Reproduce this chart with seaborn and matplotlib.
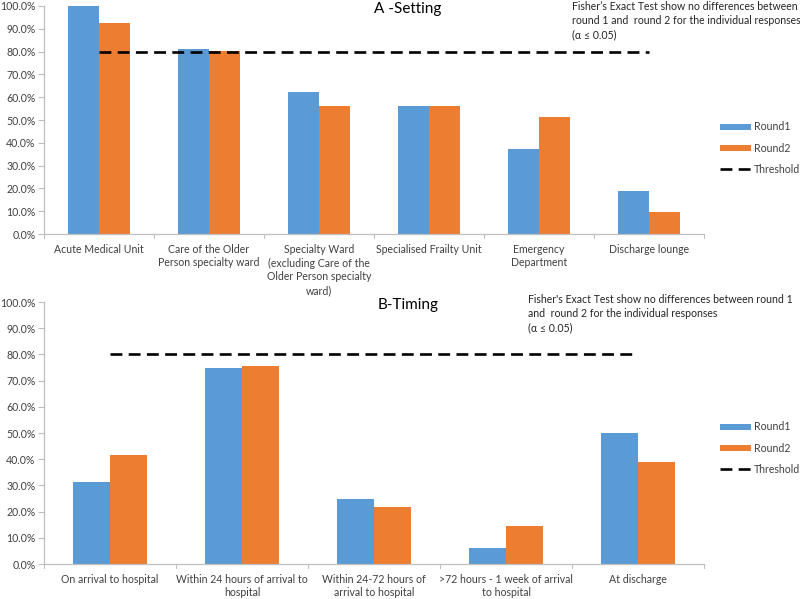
import matplotlib
matplotlib.use("Agg")
import matplotlib.pyplot as plt
import seaborn as sns
import pandas as pd
from matplotlib.patches import Patch
from matplotlib.lines import Line2D

# ---- data ----
setting_cats = ["Acute Medical Unit",
                "Care of the Older\nPerson specialty ward",
                "Specialty Ward\n(excluding Care of the\nOlder Person specialty\nward)",
                "Specialised Frailty Unit",
                "Emergency\nDepartment",
                "Discharge lounge"]
setting_r1 = [100.0, 81.3, 62.5, 56.3, 37.5, 18.8]
setting_r2 = [92.6, 80.4, 56.0, 56.0, 51.3, 9.8]

timing_cats = ["On arrival to hospital",
               "Within 24 hours of arrival to\nhospital",
               "Within 24-72 hours of\narrival to hospital",
               ">72 hours - 1 week of arrival\nto hospital",
               "At discharge"]
timing_r1 = [31.3, 75.0, 25.0, 6.3, 50.0]
timing_r2 = [41.5, 75.6, 21.9, 14.6, 38.9]

threshold = 80.0
series_names = ["Round1", "Round2"]
yticks = [0, 10, 20, 30, 40, 50, 60, 70, 80, 90, 100]

title_a = "A -Setting"
title_b = "B-Timing"
note_a = "Fisher\u2019s Exact Test show no differences between\nround 1 and  round 2 for the individual responses\n(\u03b1 \u2264 0.05)"
note_b = "Fisher's Exact Test show no differences between round 1\nand  round 2 for the individual responses\n(\u03b1 \u2264 0.05)"

blue = "#5B9BD5"
orange = "#ED7D31"
axis_gray = "#BFBFBF"
text_gray = "#404040"
FS = 7.6

sns.set_theme(style="white")
plt.rcParams["font.family"] = ["Lato", "DejaVu Sans"]

fig = plt.figure(figsize=(8.0, 5.99), dpi=100)
ax_a = fig.add_axes([0.055, 0.6093, 0.825, 0.3807])
ax_b = fig.add_axes([0.055, 0.0584, 0.825, 0.4374])

DASH = (0, (4.5, 2.4))


def draw(ax, cats, r1, r2, title, tx, ty, note, nx, ny, leg_y):
    df = pd.DataFrame({
        "cat": cats * 2,
        "val": list(r1) + list(r2),
        "series": [series_names[0]] * len(cats) + [series_names[1]] * len(cats),
    })
    sns.barplot(data=df, x="cat", y="val", hue="series", order=cats,
                hue_order=series_names, palette=[blue, orange],
                width=0.565, gap=0, saturation=1, ax=ax, legend=False,
                edgecolor="none")
    n = len(cats)
    ax.plot([0, n - 1], [threshold, threshold], color="black", lw=1.9,
            linestyle=DASH)
    ax.set_xlim(-0.5, n - 0.5)
    ax.set_ylim(0, 100)
    ax.set_yticks(yticks)
    ax.set_yticklabels([f"{v:.1f}%" for v in yticks], color=text_gray, fontsize=FS)
    ax.set_xticks(range(n))
    ax.set_xticklabels(cats, color=text_gray, fontsize=FS, linespacing=1.3)
    ax.tick_params(axis="x", length=0, pad=7)
    ax.tick_params(axis="y", length=4, width=0.8, color=axis_gray, pad=2, direction="out", left=True)
    for b in range(n + 1):
        ax.plot([b - 0.5, b - 0.5], [0, -1.6], color=axis_gray, lw=0.8, clip_on=False)
    ax.set_xlabel("")
    ax.set_ylabel("")
    for s in ["top", "right"]:
        ax.spines[s].set_visible(False)
    for s in ["left", "bottom"]:
        ax.spines[s].set_color(axis_gray)
        ax.spines[s].set_linewidth(0.9)
    fig.text(tx, ty, title, fontsize=11, color="black", ha="center", va="center")
    fig.text(nx, ny, note, fontsize=FS, color="#262626", ha="left", va="top", linespacing=1.35)
    handles = [Patch(facecolor=blue, edgecolor="none", label=series_names[0]),
               Patch(facecolor=orange, edgecolor="none", label=series_names[1]),
               Line2D([0], [0], color="black", lw=1.9, linestyle=DASH, label="Threshold")]
    leg = fig.legend(handles=handles, loc="center left", bbox_to_anchor=(0.9, leg_y),
                     frameon=False, fontsize=FS, handlelength=2.9, handleheight=0.45,
                     labelspacing=0.95, handletextpad=0.3, borderaxespad=0, borderpad=0)
    for t in leg.get_texts():
        t.set_color(text_gray)


draw(ax_a, setting_cats, setting_r1, setting_r2, title_a, 408 / 800, 1 - 9 / 599,
     note_a, 572 / 800, 1 - 1 / 599, 1 - 148 / 599)
draw(ax_b, timing_cats, timing_r1, timing_r2, title_b, 408 / 800, 1 - 305 / 599,
     note_b, 528 / 800, 1 - 294 / 599, 1 - 448 / 599)

fig.savefig("out.png", dpi=100)
